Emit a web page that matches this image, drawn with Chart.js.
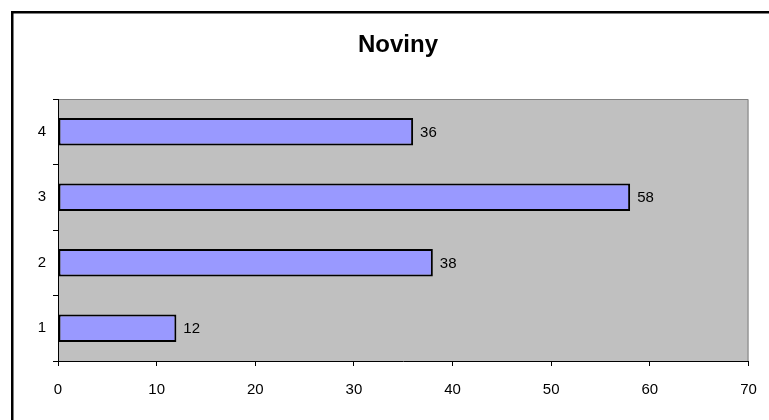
<!DOCTYPE html>
<html>
<head>
<meta charset="utf-8">
<script src="https://cdn.jsdelivr.net/npm/chart.js@4/dist/chart.umd.min.js"></script>
<style>
  html, body { margin: 0; padding: 0; background: #ffffff; }
  #wrap { width: 769px; height: 420px; position: relative; }
</style>
</head>
<body>
<div id="wrap"><canvas id="c" width="769" height="420"></canvas></div>
<script>
// Survey answers per option
const categories = ['1', '2', '3', '4'];
const counts = [12, 38, 58, 36];
const chartTitle = 'Noviny';
const axisMin = 0;
const axisMax = 70;
const axisStep = 10;

const FONT = '"Liberation Sans", Arial, sans-serif';

// Grey plot background, grey top/right edge, title and the outer frame
const plotFrame = {
  id: 'plotFrame',
  beforeDraw(chart) {
    const { ctx, chartArea: a } = chart;
    ctx.save();
    ctx.fillStyle = '#c0c0c0';
    ctx.fillRect(a.left, a.top, a.right - a.left, a.bottom - a.top);
    ctx.strokeStyle = '#808080';
    ctx.lineWidth = 1;
    ctx.beginPath();
    ctx.moveTo(a.left, a.top + 0.5);
    ctx.lineTo(a.right - 0.5, a.top + 0.5);
    ctx.lineTo(a.right - 0.5, a.bottom);
    ctx.stroke();
    ctx.restore();
  },
  afterDraw(chart) {
    const { ctx } = chart;
    ctx.save();
    // title, centred over the frame
    ctx.font = 'bold 24px ' + FONT;
    ctx.fillStyle = '#000000';
    ctx.textAlign = 'center';
    ctx.textBaseline = 'alphabetic';
    ctx.fillText(chartTitle, 398, 52);
    ctx.strokeStyle = '#000000';
    ctx.lineWidth = 2.5;
    ctx.strokeRect(12.25, 12.25, 800, 450);
    ctx.restore();
  }
};

// Value printed just past the end of each bar
const barValues = {
  id: 'barValues',
  afterDatasetsDraw(chart) {
    const { ctx } = chart;
    const meta = chart.getDatasetMeta(0);
    ctx.save();
    ctx.font = '15px ' + FONT;
    ctx.fillStyle = '#000000';
    ctx.textAlign = 'left';
    ctx.textBaseline = 'middle';
    meta.data.forEach((bar, i) => {
      ctx.fillText(String(counts[i]), bar.x + 7, bar.y + 1);
    });
    ctx.restore();
  }
};

new Chart(document.getElementById('c'), {
  type: 'bar',
  data: {
    labels: categories,
    datasets: [{
      data: counts,
      backgroundColor: '#9999ff',
      borderColor: '#000000',
      borderWidth: 2,
      borderSkipped: false,
      barPercentage: 0.42,
      categoryPercentage: 1.0
    }]
  },
  options: {
    indexAxis: 'y',
    responsive: false,
    animation: false,
    devicePixelRatio: 1,
    layout: { padding: { left: 0, right: 20.5, top: 99, bottom: 0 } },
    plugins: {
      legend: { display: false },
      tooltip: { enabled: false },
      title: { display: false }
    },
    scales: {
      x: {
        type: 'linear',
        min: axisMin,
        max: axisMax,
        ticks: {
          stepSize: axisStep,
          color: '#000000',
          font: { family: FONT, size: 15 },
          padding: 15,
          maxRotation: 0
        },
        grid: {
          drawOnChartArea: false,
          drawTicks: true,
          tickLength: 5,
          color: '#000000'
        },
        border: { display: true, color: '#000000', width: 1 },
        afterFit(scale) {
          scale.height = 59;
          scale.paddingLeft = 0;
          scale.paddingRight = 0;
        }
      },
      y: {
        reverse: true,
        ticks: {
          color: '#000000',
          font: { family: FONT, size: 15 },
          padding: 7
        },
        grid: {
          offset: true,
          drawOnChartArea: false,
          drawTicks: true,
          tickLength: 5,
          color: '#000000'
        },
        border: { display: true, color: '#000000', width: 1 },
        afterFit(scale) { scale.width = 58; }
      }
    }
  },
  plugins: [plotFrame, barValues]
});
</script>
</body>
</html>
